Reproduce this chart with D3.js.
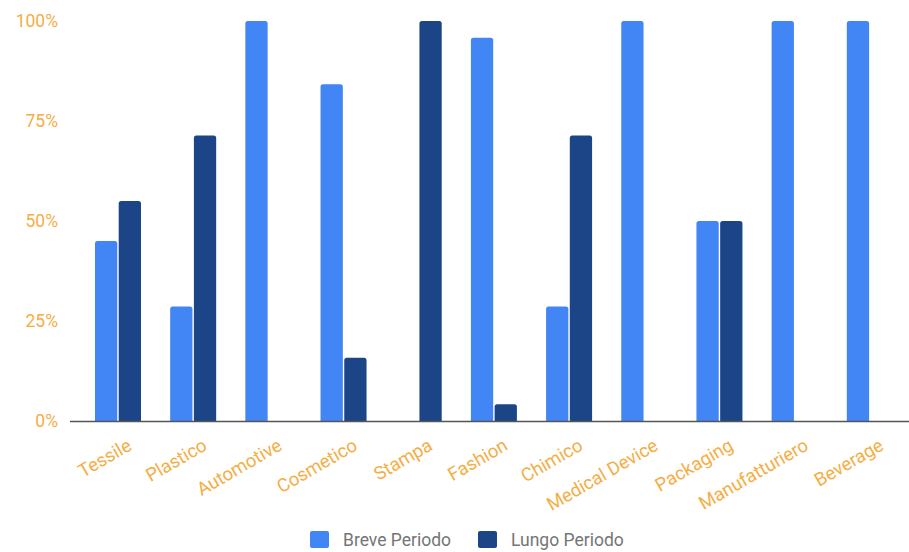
<!DOCTYPE html>
<html>
<head>
<meta charset="utf-8">
<script src="https://cdn.jsdelivr.net/npm/d3@7"></script>
<style>
  html, body { margin: 0; padding: 0; background: #ffffff; }
  svg { display: block; }
</style>
</head>
<body>
<svg id="chart" width="909" height="552"></svg>
<script>
// Sectors and the share of each time horizon
const categories = ["Tessile", "Plastico", "Automotive", "Cosmetico", "Stampa", "Fashion",
                    "Chimico", "Medical Device", "Packaging", "Manufatturiero", "Beverage"];
const brevePeriodo = [45, 28.6, 100, 84.2, 0, 95.8, 28.6, 100, 50, 100, 100];
const lungoPeriodo = [55, 71.4, 0, 15.8, 100, 4.2, 71.4, 0, 50, 0, 0];
const seriesNames = ["Breve Periodo", "Lungo Periodo"];
const seriesColors = ["#4285f4", "#1c4587"];
const yTicks = [0, 25, 50, 75, 100];

const labelColor = "#f4ae45";
const font = "Roboto, 'Noto Sans', sans-serif";

const svg = d3.select("#chart");
const plot = { left: 80.4, right: 907.4, top: 21, bottom: 421 };

const x = d3.scaleBand()
  .domain(categories)
  .range([plot.left, plot.right])
  .paddingInner(0.388)
  .paddingOuter(0.194);

const xs = d3.scaleBand()
  .domain(seriesNames)
  .range([0, x.bandwidth()])
  .paddingInner(0.06);

const y = d3.scaleLinear().domain([0, 100]).range([plot.bottom, plot.top]);

const rows = categories.map((c, i) => ({
  category: c,
  values: [brevePeriodo[i], lungoPeriodo[i]]
}));

// Bars with softly rounded tops
function topRoundedRect(x0, y0, w, h, r) {
  r = Math.min(r, h, w / 2);
  return `M${x0},${y0 + h}V${y0 + r}Q${x0},${y0} ${x0 + r},${y0}H${x0 + w - r}Q${x0 + w},${y0} ${x0 + w},${y0 + r}V${y0 + h}Z`;
}

const groups = svg.append("g").selectAll("g")
  .data(rows)
  .join("g")
  .attr("transform", d => `translate(${x(d.category)},0)`);

groups.selectAll("path")
  .data(d => d.values.map((v, j) => ({ v, j })).filter(e => e.v > 0))
  .join("path")
  .attr("fill", e => seriesColors[e.j])
  .attr("d", e => topRoundedRect(xs(seriesNames[e.j]), y(e.v), xs.bandwidth(), y(0) - y(e.v), 2.5));

// Baseline
svg.append("line")
  .attr("x1", 70).attr("x2", 909)
  .attr("y1", y(0) + 0.5).attr("y2", y(0) + 0.5)
  .attr("stroke", "#555").attr("stroke-width", 1.5);

// Y axis labels
const yAxis = d3.axisLeft(y)
  .tickValues(yTicks)
  .tickSize(0)
  .tickPadding(0)
  .tickFormat(d => d + "%");

const yg = svg.append("g")
  .attr("transform", "translate(58,0)")
  .call(yAxis);
yg.select(".domain").remove();
yg.selectAll("text")
  .attr("fill", labelColor)
  .style("font-family", font)
  .style("font-size", "17.5px");

// X axis labels, slanted
const xAxis = d3.axisBottom(x).tickSize(0).tickPadding(0);
const xg = svg.append("g")
  .attr("transform", `translate(0,${plot.bottom})`)
  .call(xAxis);
xg.select(".domain").remove();
xg.selectAll("text")
  .attr("fill", labelColor)
  .style("font-family", font)
  .style("font-size", "18.5px")
  .attr("text-anchor", "end")
  .attr("dy", 0)
  .attr("transform", "translate(15,28) rotate(-30)");

// Legend
const legend = svg.append("g").attr("transform", "translate(310,531)");
const legendOffsets = [0, 168];
seriesNames.forEach((name, i) => {
  const g = legend.append("g").attr("transform", `translate(${legendOffsets[i]},0)`);
  g.append("rect")
    .attr("width", 19).attr("height", 17).attr("rx", 2)
    .attr("fill", seriesColors[i]);
  g.append("text")
    .attr("x", 33).attr("y", 14.5)
    .attr("fill", "#757575")
    .style("font-family", font)
    .style("font-size", "17.5px")
    .text(name);
});
</script>
</body>
</html>
